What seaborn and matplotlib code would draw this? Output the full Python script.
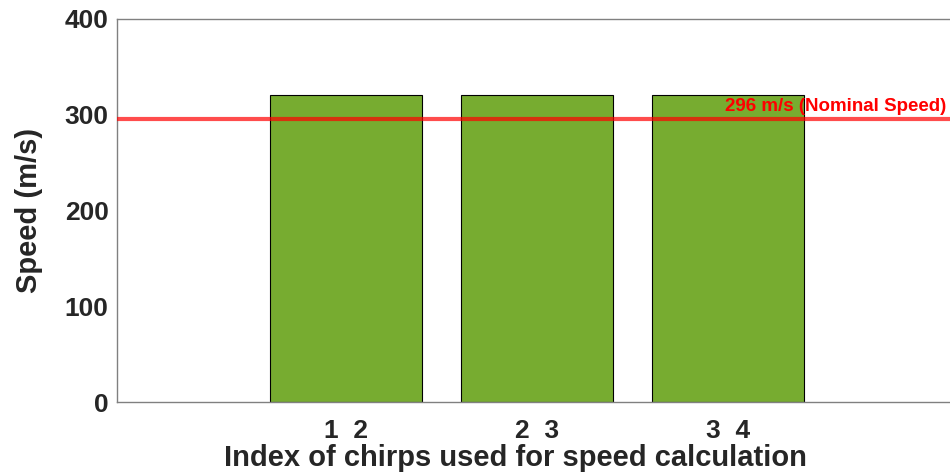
import matplotlib
matplotlib.use("Agg")
import matplotlib.pyplot as plt
import seaborn as sns
import pandas as pd

# Data
categories = ["1  2", "2  3", "3  4"]
speeds = [321, 321, 321]
nominal_speed = 296
nominal_label = "296 m/s (Nominal Speed)"
y_ticks = [0, 100, 200, 300, 400]

sns.set_theme(style="white")
plt.rcParams["font.family"] = ["Liberation Sans", "DejaVu Sans"]
plt.rcParams["font.weight"] = "bold"

df = pd.DataFrame({"pair": categories, "speed": speeds})

fig = plt.figure(figsize=(9.5, 4.75), dpi=100)
ax = fig.add_axes([117 / 950, 1 - 402 / 475, (957 - 117) / 950, (402 - 19) / 475])

sns.barplot(data=df, x="pair", y="speed", color="#77AC30", saturation=1,
            width=0.8, edgecolor="black", linewidth=0.8, ax=ax, zorder=2)

ax.axhline(nominal_speed, color="red", alpha=0.7, linewidth=3, zorder=3)
ax.text(1.985, 304, nominal_label, color="red", fontsize=13.5, fontweight="bold",
        ha="left", va="baseline", zorder=4, clip_on=False)

ax.set_xlim(-1.2, 3.2)
ax.set_ylim(0, 400)
ax.set_yticks(y_ticks)

txt = "#262626"
ax.set_xlabel("Index of chirps used for speed calculation", fontsize=21,
              fontweight="bold", color=txt)
ax.xaxis.set_label_coords((515 - 117) / 840, -(466 - 402) / 383)
ax.xaxis.label.set_va("baseline")
ax.set_ylabel("Speed (m/s)", fontsize=21, fontweight="bold", color=txt)
ax.yaxis.set_label_coords(-(117 - 29) / 840, 0.5)
ax.yaxis.label.set_va("center")

ax.tick_params(axis="both", direction="in", colors="#808080", labelcolor=txt,
               length=6, width=1)
ax.tick_params(axis="y", labelsize=19, pad=6)
ax.tick_params(axis="x", labelsize=19, length=5, pad=12)
for lab in ax.get_xticklabels() + ax.get_yticklabels():
    lab.set_fontweight("bold")

for s in ax.spines.values():
    s.set_color("#808080")
    s.set_linewidth(1)

fig.savefig("out.png", dpi=100)
